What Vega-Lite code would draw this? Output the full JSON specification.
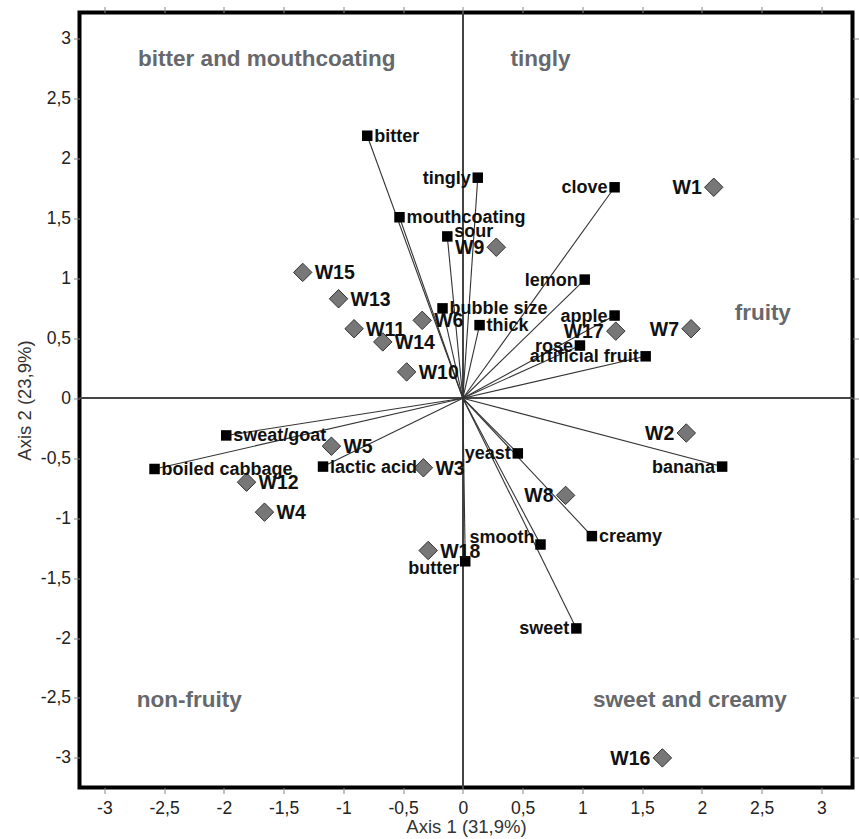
{
  "$schema": "https://vega.github.io/schema/vega-lite/v6.json",
  "width": 773,
  "height": 775,
  "autosize": {"type": "none"},
  "padding": {"left": 79.5, "top": 12.5, "right": 6.5, "bottom": 51.5},
  "background": "white",
  "config": {
    "font": "Liberation Sans",
    "view": {"stroke": "black", "strokeWidth": 4},
    "axis": {
      "domain": false,
      "grid": false,
      "tickColor": "#888888",
      "tickSize": 6,
      "tickWidth": 1,
      "labelFont": "Liberation Sans",
      "labelFontSize": 17.5,
      "labelColor": "#222222",
      "titleFont": "Liberation Sans",
      "titleFontSize": 18.5,
      "titleFontWeight": "normal",
      "titleColor": "#333333"
    }
  },
  "datasets": {
    "attributes": [
      {"name": "bitter", "x": -0.80, "y": 2.19},
      {"name": "tingly", "x": 0.125, "y": 1.84},
      {"name": "mouthcoating", "x": -0.53, "y": 1.51},
      {"name": "sour", "x": -0.13, "y": 1.35},
      {"name": "bubble size", "x": -0.17, "y": 0.75},
      {"name": "thick", "x": 0.14, "y": 0.61},
      {"name": "clove", "x": 1.27, "y": 1.76},
      {"name": "lemon", "x": 1.02, "y": 0.99},
      {"name": "apple", "x": 1.27, "y": 0.69},
      {"name": "rose", "x": 0.98, "y": 0.44},
      {"name": "artificial fruit", "x": 1.53, "y": 0.35},
      {"name": "sweat/goat", "x": -1.98, "y": -0.31},
      {"name": "boiled cabbage", "x": -2.58, "y": -0.59},
      {"name": "lactic acid", "x": -1.17, "y": -0.57},
      {"name": "butter", "x": 0.02, "y": -1.36},
      {"name": "yeast", "x": 0.46, "y": -0.46},
      {"name": "banana", "x": 2.17, "y": -0.57},
      {"name": "smooth", "x": 0.65, "y": -1.22},
      {"name": "creamy", "x": 1.08, "y": -1.15},
      {"name": "sweet", "x": 0.95, "y": -1.92}
    ],
    "wines": [
      {"name": "W1", "x": 2.10, "y": 1.76},
      {"name": "W2", "x": 1.87, "y": -0.29},
      {"name": "W3", "x": -0.33, "y": -0.58},
      {"name": "W4", "x": -1.66, "y": -0.95},
      {"name": "W5", "x": -1.10, "y": -0.40},
      {"name": "W6", "x": -0.34, "y": 0.65},
      {"name": "W7", "x": 1.91, "y": 0.58},
      {"name": "W8", "x": 0.86, "y": -0.81},
      {"name": "W9", "x": 0.28, "y": 1.26},
      {"name": "W10", "x": -0.47, "y": 0.22},
      {"name": "W11", "x": -0.91, "y": 0.58},
      {"name": "W12", "x": -1.81, "y": -0.70},
      {"name": "W13", "x": -1.04, "y": 0.83},
      {"name": "W14", "x": -0.67, "y": 0.47},
      {"name": "W15", "x": -1.34, "y": 1.05},
      {"name": "W16", "x": 1.67, "y": -3.00},
      {"name": "W17", "x": 1.28, "y": 0.56},
      {"name": "W18", "x": -0.29, "y": -1.27}
    ],
    "quadrants": [
      {"label": "bitter and mouthcoating", "x": -1.64, "y": 2.83},
      {"label": "tingly", "x": 0.65, "y": 2.83},
      {"label": "fruity", "x": 2.51, "y": 0.71},
      {"label": "non-fruity", "x": -2.29, "y": -2.52},
      {"label": "sweet and creamy", "x": 1.90, "y": -2.52}
    ]
  },
  "resolve": {"axis": {"x": "independent", "y": "independent"}},
  "layer": [
    {
      "layer": [
        {
          "data": {"name": "attributes"},
          "mark": {"type": "rule", "color": "#444444", "strokeWidth": 1.2},
          "encoding": {
            "x": {
              "datum": 0, "type": "quantitative",
              "scale": {"domain": [-3.208, 3.261], "nice": false, "zero": false},
              "axis": {
                "orient": "bottom",
                "values": [-3, -2.5, -2, -1.5, -1, -0.5, 0, 0.5, 1, 1.5, 2, 2.5, 3],
                "labelExpr": "replace(replace(format(datum.value, '~g'), '.', ','), '\u2212', '-')",
                "labelPadding": 6,
                "title": "Axis 1 (31,9%)",
                "titlePadding": 0
              }
            }
          }
        },
        {
          "data": {"name": "attributes"},
          "mark": {"type": "rule", "color": "#444444", "strokeWidth": 1.2},
          "encoding": {
            "y": {
              "datum": 0, "type": "quantitative",
              "scale": {"domain": [-3.247, 3.218], "nice": false, "zero": false},
              "axis": {
                "orient": "left",
                "values": [-3, -2.5, -2, -1.5, -1, -0.5, 0, 0.5, 1, 1.5, 2, 2.5, 3],
                "labelExpr": "replace(replace(format(datum.value, '~g'), '.', ','), '\u2212', '-')",
                "labelPadding": 3,
                "title": "Axis 2 (23,9%)",
                "titlePadding": 6
              }
            }
          }
        },
        {
          "data": {"name": "attributes"},
          "mark": {"type": "rule", "color": "#333333", "strokeWidth": 1.1},
          "encoding": {
            "x": {"field": "x", "type": "quantitative"},
            "y": {"field": "y", "type": "quantitative"},
            "x2": {"datum": 0},
            "y2": {"datum": 0}
          }
        },
        {
          "data": {"name": "attributes"},
          "mark": {"type": "square", "color": "black", "filled": true, "opacity": 1, "size": 110},
          "encoding": {
            "x": {"field": "x", "type": "quantitative"},
            "y": {"field": "y", "type": "quantitative"}
          }
        },
        {
          "data": {"name": "wines"},
          "mark": {"type": "point", "shape": "diamond", "filled": true, "fill": "#777777", "stroke": "#333333", "strokeWidth": 1, "opacity": 1, "size": 340},
          "encoding": {
            "x": {"field": "x", "type": "quantitative"},
            "y": {"field": "y", "type": "quantitative"}
          }
        },
        {
          "data": {"name": "attributes"},
          "transform": [{"filter": {"field": "name", "oneOf": ["bitter", "mouthcoating", "bubble size", "thick", "sweat/goat", "boiled cabbage", "lactic acid", "creamy"]}}],
          "mark": {"type": "text", "align": "left", "baseline": "middle", "dx": 7, "dy": 1, "fontSize": 18, "fontWeight": "bold", "color": "#111111"},
          "encoding": {
            "x": {"field": "x", "type": "quantitative"},
            "y": {"field": "y", "type": "quantitative"},
            "text": {"field": "name"}
          }
        },
        {
          "data": {"name": "attributes"},
          "transform": [{"filter": {"field": "name", "oneOf": ["sour"]}}],
          "mark": {"type": "text", "align": "left", "baseline": "middle", "dx": 7, "dy": -4, "fontSize": 18, "fontWeight": "bold", "color": "#111111"},
          "encoding": {
            "x": {"field": "x", "type": "quantitative"},
            "y": {"field": "y", "type": "quantitative"},
            "text": {"field": "name"}
          }
        },
        {
          "data": {"name": "attributes"},
          "transform": [{"filter": {"field": "name", "oneOf": ["tingly", "clove", "lemon", "apple", "rose", "artificial fruit", "yeast", "banana", "sweet"]}}],
          "mark": {"type": "text", "align": "right", "baseline": "middle", "dx": -7, "dy": 1, "fontSize": 18, "fontWeight": "bold", "color": "#111111"},
          "encoding": {
            "x": {"field": "x", "type": "quantitative"},
            "y": {"field": "y", "type": "quantitative"},
            "text": {"field": "name"}
          }
        },
        {
          "data": {"name": "attributes"},
          "transform": [{"filter": {"field": "name", "oneOf": ["smooth"]}}],
          "mark": {"type": "text", "align": "right", "baseline": "middle", "dx": -6, "dy": -7, "fontSize": 18, "fontWeight": "bold", "color": "#111111"},
          "encoding": {
            "x": {"field": "x", "type": "quantitative"},
            "y": {"field": "y", "type": "quantitative"},
            "text": {"field": "name"}
          }
        },
        {
          "data": {"name": "attributes"},
          "transform": [{"filter": {"field": "name", "oneOf": ["butter"]}}],
          "mark": {"type": "text", "align": "right", "baseline": "middle", "dx": -6, "dy": 8, "fontSize": 18, "fontWeight": "bold", "color": "#111111"},
          "encoding": {
            "x": {"field": "x", "type": "quantitative"},
            "y": {"field": "y", "type": "quantitative"},
            "text": {"field": "name"}
          }
        },
        {
          "data": {"name": "wines"},
          "transform": [{"filter": {"field": "name", "oneOf": ["W3", "W4", "W5", "W6", "W10", "W11", "W12", "W13", "W14", "W15", "W18"]}}],
          "mark": {"type": "text", "align": "left", "baseline": "middle", "dx": 12, "dy": 1, "fontSize": 19.5, "fontWeight": "bold", "color": "#111111"},
          "encoding": {
            "x": {"field": "x", "type": "quantitative"},
            "y": {"field": "y", "type": "quantitative"},
            "text": {"field": "name"}
          }
        },
        {
          "data": {"name": "wines"},
          "transform": [{"filter": {"field": "name", "oneOf": ["W1", "W2", "W7", "W8", "W9", "W16", "W17"]}}],
          "mark": {"type": "text", "align": "right", "baseline": "middle", "dx": -12, "dy": 1, "fontSize": 19.5, "fontWeight": "bold", "color": "#111111"},
          "encoding": {
            "x": {"field": "x", "type": "quantitative"},
            "y": {"field": "y", "type": "quantitative"},
            "text": {"field": "name"}
          }
        },
        {
          "data": {"name": "quadrants"},
          "mark": {"type": "text", "align": "center", "baseline": "middle", "fontSize": 22.5, "fontWeight": "bold", "color": "#66686c"},
          "encoding": {
            "x": {"field": "x", "type": "quantitative"},
            "y": {"field": "y", "type": "quantitative"},
            "text": {"field": "label"}
          }
        }
      ]
    },
    {
      "data": {"name": "wines"},
      "mark": {"type": "point", "opacity": 0},
      "encoding": {
        "x": {
          "field": "x", "type": "quantitative",
          "axis": {"orient": "top", "values": [-3, -2.5, -2, -1.5, -1, -0.5, 0, 0.5, 1, 1.5, 2, 2.5, 3], "labels": false, "title": null, "tickSize": 6}
        },
        "y": {
          "field": "y", "type": "quantitative",
          "axis": {"orient": "right", "values": [-3, -2.5, -2, -1.5, -1, -0.5, 0, 0.5, 1, 1.5, 2, 2.5, 3], "labels": false, "title": null, "tickSize": 6}
        }
      }
    }
  ]
}
